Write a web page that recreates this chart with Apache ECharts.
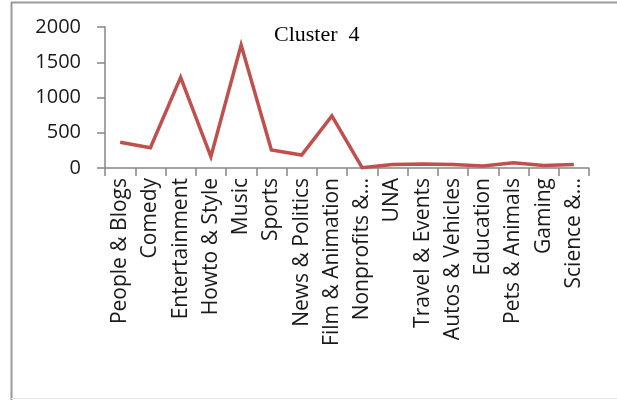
<!DOCTYPE html>
<html>
<head>
<meta charset="utf-8">
<script src="https://cdn.jsdelivr.net/npm/echarts@6/dist/echarts.min.js"></script>
<style>
  html, body { margin: 0; padding: 0; background: #fff; }
  #chart { width: 617px; height: 400px; }
</style>
</head>
<body>
<div id="chart"></div>
<script>
// Video categories on the x axis
const categories = [
  'People & Blogs', 'Comedy', 'Entertainment', 'Howto & Style', 'Music',
  'Sports', 'News & Politics', 'Film & Animation', 'Nonprofits &\u2026', 'UNA',
  'Travel & Events', 'Autos & Vehicles', 'Education', 'Pets & Animals', 'Gaming',
  'Science &\u2026'
];

// Counts per category for cluster 4
const clusterValues = [365, 288, 1286, 160, 1745, 255, 184, 738, 5, 50, 55, 50, 30, 75, 35, 50];

// Value axis ticks
const yTicks = [0, 500, 1000, 1500, 2000];

const chart = echarts.init(document.getElementById('chart'), null, { renderer: 'canvas' });

const axisGray = '#868686';
const labelFont = '"Open Sans", "DejaVu Sans", sans-serif';

chart.setOption({
  animation: false,
  title: {
    text: 'Cluster  4',
    left: 269,
    top: 19,
    textStyle: {
      fontFamily: '"Liberation Serif", "DejaVu Serif", serif',
      fontWeight: 'normal',
      fontSize: 22,
      color: '#000'
    }
  },
  graphic: [
    { type: 'line', shape: { x1: 11.5, y1: 2, x2: 11.5, y2: 400 }, style: { stroke: '#9a9a9a', lineWidth: 2 } },
    { type: 'line', shape: { x1: 11, y1: 2.5, x2: 617, y2: 2.5 }, style: { stroke: '#9a9a9a', lineWidth: 2 } },
    { type: 'line', shape: { x1: 11, y1: 398.5, x2: 617, y2: 398.5 }, style: { stroke: '#e4e4e4', lineWidth: 1 } }
  ],
  grid: { left: 105, top: 27, right: 28, bottom: 232, containLabel: false },
  xAxis: {
    type: 'category',
    data: categories,
    boundaryGap: true,
    axisLine: { lineStyle: { color: axisGray, width: 1.5 } },
    axisTick: { show: true, length: 8, interval: 0, lineStyle: { color: axisGray, width: 1.5 } },
    axisLabel: {
      interval: 0,
      rotate: 90,
      margin: 10,
      fontFamily: labelFont,
      fontSize: 21,
      color: '#1a1a1a'
    },
    splitLine: { show: false }
  },
  yAxis: {
    type: 'value',
    min: yTicks[0],
    max: yTicks[yTicks.length - 1],
    interval: 500,
    axisLine: { show: true, lineStyle: { color: axisGray, width: 1.5 } },
    axisTick: { show: true, length: 8, lineStyle: { color: axisGray, width: 1.5 } },
    axisLabel: {
      margin: 24,
      fontFamily: labelFont,
      fontSize: 20,
      color: '#1a1a1a',
      formatter: (v) => String(v)
    },
    splitLine: { show: false }
  },
  series: [{
    type: 'line',
    data: clusterValues,
    showSymbol: false,
    symbol: 'none',
    lineStyle: { color: '#C0504D', width: 3.5, join: 'miter' },
    itemStyle: { color: '#C0504D' }
  }]
});
</script>
</body>
</html>
